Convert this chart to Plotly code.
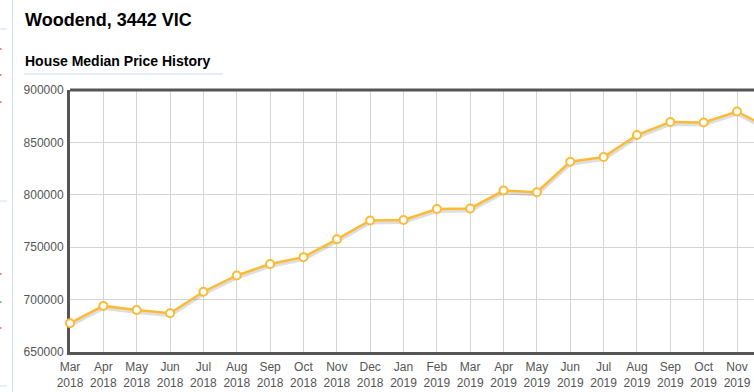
import plotly.graph_objects as go

months = ["Mar", "Apr", "May", "Jun", "Jul", "Aug", "Sep", "Oct", "Nov", "Dec",
          "Jan", "Feb", "Mar", "Apr", "May", "Jun", "Jul", "Aug", "Sep", "Oct", "Nov", "Dec"]
years = ["2018"] * 10 + ["2019"] * 12
prices = [677500, 694000, 690000, 687000, 707500, 723000, 734000, 740500, 757500, 775500,
          776000, 786500, 787000, 804000, 802500, 831500, 836000, 857000, 869500, 869000, 879500, 863000]
y_ticks = [650000, 700000, 750000, 800000, 850000, 900000]

labels = [f"{m}<br>{y}" for m, y in zip(months, years)]
idx = list(range(len(labels)))

W, H = 754, 392
L, R, T, B = 70, 0, 90, 40
PW, PH = W - L - R, H - T - B

def px(x):
    return (x - L) / PW

def py(y):
    return (H - B - y) / PH

ymin, ymax = y_ticks[0], y_ticks[-1]
shadow_off = 2.0 * (ymax - ymin) / PH
shadow = [v - shadow_off for v in prices]

line_color = "#fbbb36"
font_family = "Arial, Liberation Sans, sans-serif"

fig = go.Figure()
fig.add_trace(go.Scatter(
    x=idx, y=shadow, mode="lines",
    line=dict(color="rgba(0,0,0,0.13)", width=4),
    hoverinfo="skip", showlegend=False,
))
fig.add_trace(go.Scatter(
    x=idx, y=prices, mode="lines+markers",
    line=dict(color=line_color, width=2.5),
    marker=dict(size=8, color="white", line=dict(color=line_color, width=2)),
    cliponaxis=False, showlegend=False,
))

shapes = [
    dict(type="line", xref="paper", yref="paper", x0=0, x1=1, y0=1, y1=1,
         line=dict(color="#555555", width=3)),
    dict(type="line", xref="paper", yref="paper", x0=px(24), x1=px(223), y0=py(74), y1=py(74),
         line=dict(color="#c6dcf1", width=1)),
    dict(type="line", xref="paper", yref="paper", x0=px(12.5), x1=px(12.5), y0=py(0), y1=py(392),
         line=dict(color="#cfe0f2", width=1)),
]
for yy in [29, 201, 386]:
    shapes.append(dict(type="line", xref="paper", yref="paper", x0=px(0), x1=px(7), y0=py(yy), y1=py(yy),
                       line=dict(color="#cfe0f2", width=1)))
for yy, c in [(49, "red"), (75, "red"), (102, "red"), (274, "red"), (302, "green"), (328, "red")]:
    shapes.append(dict(type="line", xref="paper", yref="paper", x0=px(0), x1=px(1.5), y0=py(yy), y1=py(yy),
                       line=dict(color=c, width=1)))

annotations = [
    dict(text="<b>Woodend, 3442 VIC</b>", xref="paper", yref="paper", x=px(23), y=py(20),
         xanchor="left", yanchor="middle", showarrow=False,
         font=dict(family=font_family, size=18, color="#000000")),
    dict(text="<b>House Median Price History</b>", xref="paper", yref="paper", x=px(23), y=py(61.5),
         xanchor="left", yanchor="middle", showarrow=False,
         font=dict(family=font_family, size=14, color="#000000")),
]

fig.update_layout(
    width=W, height=H,
    margin=dict(l=L, r=R, t=T, b=B, pad=0),
    paper_bgcolor="white", plot_bgcolor="white",
    font=dict(family=font_family, size=12, color="#555555"),
    shapes=shapes, annotations=annotations,
    xaxis=dict(
        tickmode="array", tickvals=idx, ticktext=labels,
        range=[0, (W - L) / ((737 - 70) / 20)],
        showgrid=True, gridcolor="#d4d4d4", gridwidth=1,
        showline=True, linecolor="#555555", linewidth=3,
        zeroline=False, ticks="", ticklabelstandoff=2,
        tickfont=dict(family=font_family, size=12, color="#555555"),
        layer="below traces", fixedrange=True,
    ),
    yaxis=dict(
        range=[ymin, ymax], tickmode="array", tickvals=y_ticks,
        ticktext=[str(v) for v in y_ticks],
        showgrid=True, gridcolor="#d4d4d4", gridwidth=1,
        showline=True, linecolor="#555555", linewidth=3,
        zeroline=False, ticks="", ticklabelstandoff=1,
        tickfont=dict(family=font_family, size=12, color="#555555"),
        layer="below traces", fixedrange=True,
    ),
)

fig.write_html("out.html", config={"displayModeBar": False},
               post_script="document.body.style.margin='0';document.body.style.overflow='hidden';")
